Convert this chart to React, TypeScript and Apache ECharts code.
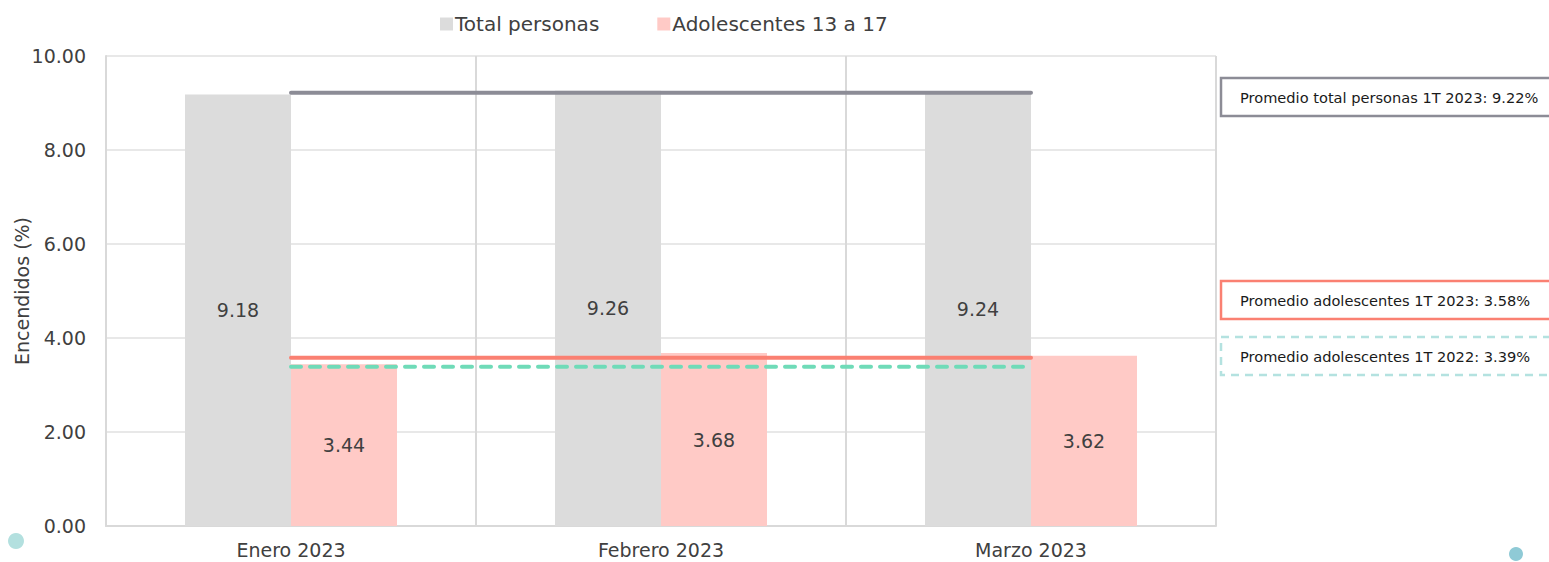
import React, { useEffect, useRef } from "react";
import * as echarts from "echarts";

const categories = ["Enero 2023", "Febrero 2023", "Marzo 2023"];
const totalPersonas = [9.18, 9.26, 9.24];
const adolescentes = [3.44, 3.68, 3.62];
const promTotal2023 = [9.22, 9.22, 9.22];
const promAdol2023 = [3.58, 3.58, 3.58];
const promAdol2022 = [3.39, 3.39, 3.39];
const yTicks = [0, 2, 4, 6, 8, 10];
const boxTexts = [
  "Promedio total personas 1T 2023: 9.22%",
  "Promedio adolescentes 1T 2023: 3.58%",
  "Promedio adolescentes 1T 2022: 3.39%",
];

const FONT = "'DejaVu Sans', sans-serif";
const TXT = "#404040";

export default function App() {
  const ref = useRef<HTMLDivElement>(null);
  useEffect(() => {
    document.body.style.margin = "0";
    if (!ref.current) return;
    const chart = echarts.init(ref.current, undefined, { renderer: "svg" });
    const labelStyle = {
      show: true,
      position: "inside" as const,
      color: TXT,
      fontSize: 19,
      fontFamily: FONT,
      formatter: (p: any) => Number(p.value).toFixed(2),
    };
    chart.setOption({
      animation: false,
      textStyle: { fontFamily: FONT },
      legend: {
        data: ["Total personas", "Adolescentes 13 a 17"],
        top: 9,
        left: 435,
        icon: "rect",
        itemWidth: 13,
        itemHeight: 13,
        itemGap: 58,
        textStyle: { color: TXT, fontSize: 20, fontFamily: FONT, padding: [0, 0, 0, -3] },
      },
      grid: { left: 106, right: 333, top: 56, bottom: 36, outerBoundsMode: "none", containLabel: false },
      xAxis: {
        type: "category",
        data: categories,
        boundaryGap: true,
        axisLine: { show: true, lineStyle: { color: "#d9d9d9", width: 2 } },
        axisTick: { show: false },
        splitLine: { show: true, lineStyle: { color: "#d9d9d9", width: 2 } },
        axisLabel: { color: TXT, fontSize: 19, fontFamily: FONT, margin: 14 },
      },
      yAxis: {
        type: "value",
        min: yTicks[0],
        max: yTicks[yTicks.length - 1],
        interval: 2,
        name: "Encendidos (%)",
        nameLocation: "middle",
        nameGap: 75,
        nameMoveOverlap: false,
        nameTextStyle: { color: TXT, fontSize: 19, fontFamily: FONT },
        axisLine: { show: true, lineStyle: { color: "#d9d9d9", width: 2 } },
        axisTick: { show: false },
        splitLine: { show: true, lineStyle: { color: "#e8e8e8", width: 2 } },
        axisLabel: {
          color: TXT,
          fontSize: 19,
          fontFamily: FONT,
          margin: 20,
          formatter: (v: number) => v.toFixed(2),
        },
      },
      series: [
        {
          name: "Total personas",
          type: "bar",
          data: totalPersonas,
          barWidth: 106,
          barGap: "0%",
          itemStyle: { color: "#dcdcdc" },
          label: labelStyle,
          z: 2,
        },
        {
          name: "Adolescentes 13 a 17",
          type: "bar",
          data: adolescentes,
          barWidth: 106,
          barGap: "0%",
          itemStyle: { color: "#ffcac6" },
          label: labelStyle,
          z: 2,
        },
        {
          name: "Promedio total 2023",
          type: "line",
          data: promTotal2023,
          symbol: "none",
          lineStyle: { color: "#8c8c96", width: 4, cap: "round" },
          z: 5,
        },
        {
          name: "Promedio adol 2023",
          type: "line",
          data: promAdol2023,
          symbol: "none",
          lineStyle: { color: "#fa8072", width: 4, cap: "round" },
          z: 5,
        },
        {
          name: "Promedio adol 2022",
          type: "line",
          data: promAdol2022,
          symbol: "none",
          lineStyle: { color: "#6fdbb8", width: 4, type: [10, 9], cap: "round" },
          z: 5,
        },
      ],
      graphic: [
        {
          type: "rect",
          shape: { x: 1221, y: 78, width: 340, height: 38 },
          style: { fill: "#fff", stroke: "#8c8c96", lineWidth: 2.5 },
        },
        {
          type: "text",
          x: 1240,
          y: 97,
          style: { text: boxTexts[0], fill: "#1a1a1a", fontSize: 14.6, fontFamily: FONT, verticalAlign: "middle" },
        },
        {
          type: "rect",
          shape: { x: 1221, y: 281, width: 340, height: 38 },
          style: { fill: "#fff", stroke: "#fa8072", lineWidth: 2.5 },
        },
        {
          type: "text",
          x: 1240,
          y: 300,
          style: { text: boxTexts[1], fill: "#1a1a1a", fontSize: 14.6, fontFamily: FONT, verticalAlign: "middle" },
        },
        {
          type: "rect",
          shape: { x: 1221, y: 337, width: 340, height: 38 },
          style: { fill: "#fff", stroke: "#b4e2e0", lineWidth: 2.5, lineDash: [8, 6] },
        },
        {
          type: "text",
          x: 1240,
          y: 356,
          style: { text: boxTexts[2], fill: "#1a1a1a", fontSize: 14.6, fontFamily: FONT, verticalAlign: "middle" },
        },
        {
          type: "circle",
          shape: { cx: 16, cy: 541, r: 8 },
          style: { fill: "#b3e0df" },
        },
        {
          type: "circle",
          shape: { cx: 1516, cy: 554, r: 7 },
          style: { fill: "#8fcad6" },
        },
      ],
    });
    return () => chart.dispose();
  }, []);
  return <div ref={ref} style={{ width: 1549, height: 562 }} />;
}
